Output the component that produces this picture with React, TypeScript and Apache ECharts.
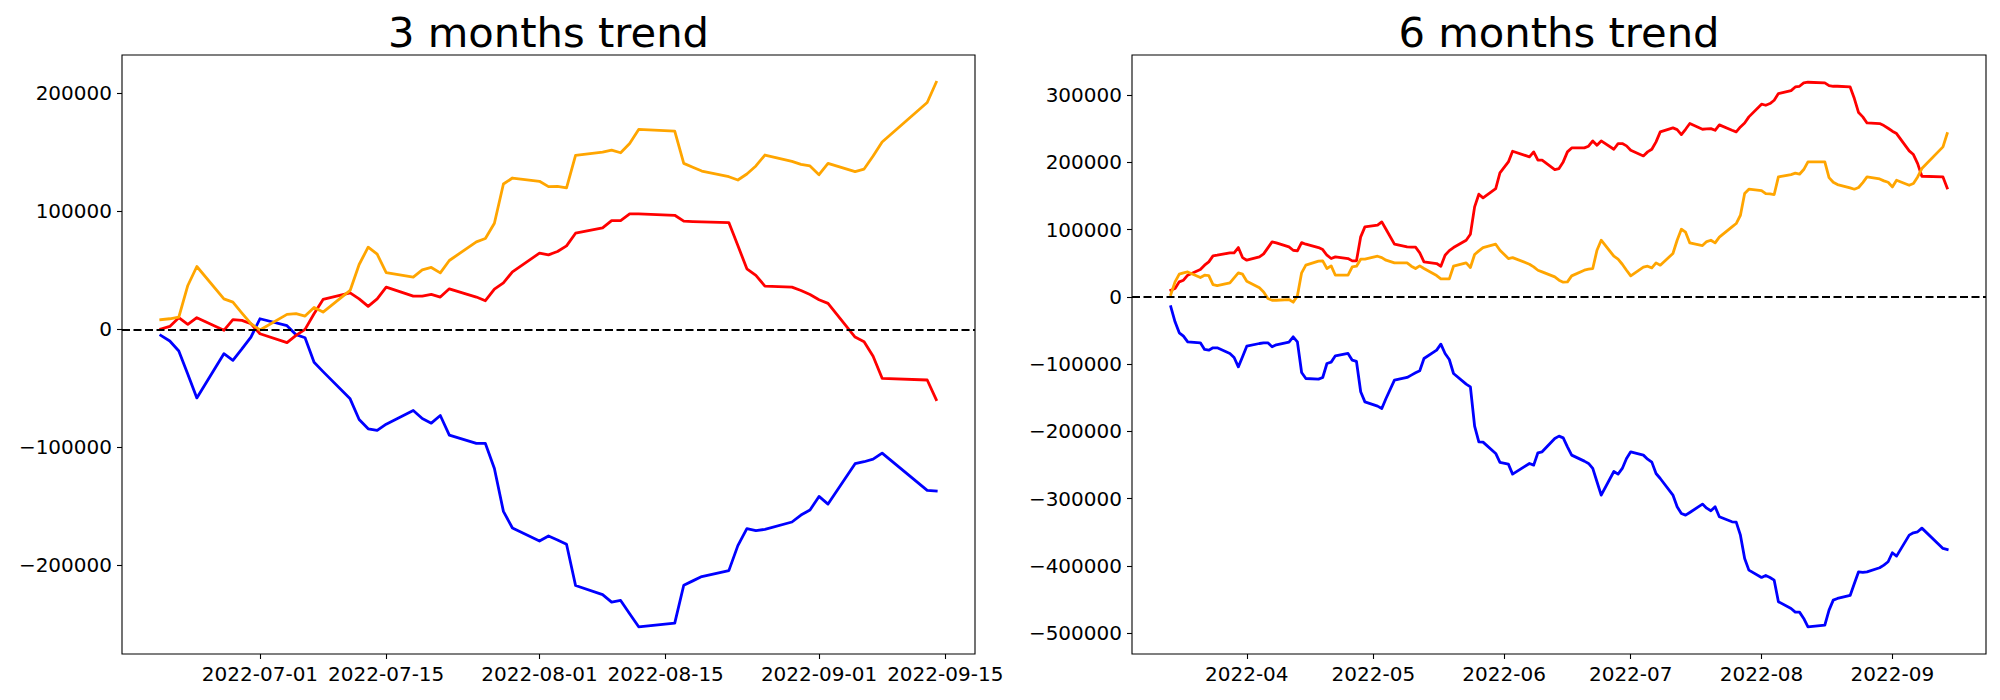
import React, { useEffect, useRef } from "react";
import * as echarts from "echarts";

// ---------------- 3 months data ----------------
const dates3m = [
  "2022-06-20", "2022-06-21", "2022-06-22", "2022-06-23", "2022-06-24", "2022-06-27", "2022-06-28", "2022-06-29", "2022-06-30",
  "2022-07-01", "2022-07-04", "2022-07-05", "2022-07-06", "2022-07-07", "2022-07-08", "2022-07-11", "2022-07-12", "2022-07-13",
  "2022-07-14", "2022-07-15", "2022-07-18", "2022-07-19", "2022-07-20", "2022-07-21", "2022-07-22", "2022-07-25", "2022-07-26",
  "2022-07-27", "2022-07-28", "2022-07-29",
  "2022-08-01", "2022-08-02", "2022-08-03", "2022-08-04", "2022-08-05", "2022-08-08", "2022-08-09", "2022-08-10", "2022-08-11",
  "2022-08-12", "2022-08-16", "2022-08-17", "2022-08-18", "2022-08-19", "2022-08-22", "2022-08-23", "2022-08-24", "2022-08-25",
  "2022-08-26", "2022-08-29", "2022-08-30", "2022-08-31",
  "2022-09-01", "2022-09-02", "2022-09-05", "2022-09-06", "2022-09-07", "2022-09-08", "2022-09-13", "2022-09-14",
];
const red3m = [
  300, 2500, 9900, 4200, 9900, -800, 8200, 7600, 4800,
  -3700, -11300, -5100, 0, 13300, 25400, 31000, 25900, 19500, 25900, 35800, 28200, 28200, 29600, 27400, 34400, 27400, 24300, 34100, 39500, 48800,
  64600, 63200, 66000, 70800, 81500, 86000, 92200, 92200, 97900, 97900, 96700, 91700, 91400, 91100, 90500, 71100, 51300, 45700, 36700, 35800, 33000, 29600,
  25100, 22000, -6500, -10400, -22800, -41500, -42900, -59500,
];
const orange3m = [
  8200, 9000, 10400, 37200, 53300, 25900, 23100, 13800, 4800,
  -500, 12700, 13300, 11300, 18600, 14700, 33000, 55000, 69700, 63700, 48200, 44300, 50500, 52500, 47900, 58400, 74200, 77000, 90000, 123200, 128300,
  125500, 121000, 121300, 119900, 147500, 150300, 152000, 149700, 157600, 169500, 168100, 140700, 137400, 134200, 129400, 126600, 131700, 138500, 147800, 142400, 139900, 138500,
  131100, 140700, 133700, 135900, 146900, 158800, 192300, 209500,
];
const blue3m = [
  -5100, -9900, -18300, -38100, -58100, -20600, -26200, -16600, -6500,
  9000, 3100, -4500, -7100, -27900, -35800, -58900, -76400, -84300, -85700, -80400, -68800, -75600, -79500, -73000, -89700, -96700, -96700, -117900, -154300, -168400,
  -179400, -175100, -178500, -182200, -217100, -224800, -231200, -229800, -241100, -252100, -249000, -216900, -213200, -209500, -204500, -183300, -168900, -170600, -169500, -163300, -157400, -153100,
  -141600, -148100, -113900, -112200, -110000, -104900, -136500, -137100,
];

// ---------------- 6 months data ----------------
const dates6m = [
  "2022-03-14", "2022-03-15", "2022-03-16", "2022-03-17", "2022-03-18", "2022-03-21", "2022-03-22", "2022-03-23", "2022-03-24", "2022-03-25",
  "2022-03-28", "2022-03-29", "2022-03-30", "2022-03-31",
  "2022-04-01", "2022-04-04", "2022-04-05", "2022-04-06", "2022-04-07", "2022-04-08", "2022-04-11", "2022-04-12", "2022-04-13", "2022-04-14",
  "2022-04-15", "2022-04-18", "2022-04-19", "2022-04-20", "2022-04-21", "2022-04-22", "2022-04-25", "2022-04-26", "2022-04-27", "2022-04-28", "2022-04-29",
  "2022-05-02", "2022-05-03", "2022-05-04", "2022-05-06", "2022-05-09", "2022-05-10", "2022-05-11", "2022-05-12", "2022-05-13", "2022-05-16",
  "2022-05-17", "2022-05-18", "2022-05-19", "2022-05-20", "2022-05-23", "2022-05-24", "2022-05-25", "2022-05-26", "2022-05-27", "2022-05-30", "2022-05-31",
  "2022-06-02", "2022-06-03", "2022-06-07", "2022-06-08", "2022-06-09", "2022-06-10", "2022-06-13", "2022-06-14", "2022-06-15", "2022-06-16",
  "2022-06-17", "2022-06-20", "2022-06-21", "2022-06-22", "2022-06-23", "2022-06-24", "2022-06-27", "2022-06-28", "2022-06-29", "2022-06-30",
  "2022-07-01", "2022-07-04", "2022-07-05", "2022-07-06", "2022-07-07", "2022-07-08", "2022-07-11", "2022-07-12", "2022-07-13", "2022-07-14",
  "2022-07-15", "2022-07-18", "2022-07-19", "2022-07-20", "2022-07-21", "2022-07-22", "2022-07-25", "2022-07-26", "2022-07-27", "2022-07-28", "2022-07-29",
  "2022-08-01", "2022-08-02", "2022-08-03", "2022-08-04", "2022-08-05", "2022-08-08", "2022-08-09", "2022-08-10", "2022-08-11", "2022-08-12",
  "2022-08-16", "2022-08-17", "2022-08-18", "2022-08-19", "2022-08-22", "2022-08-23", "2022-08-24", "2022-08-25", "2022-08-26", "2022-08-29",
  "2022-08-30", "2022-08-31",
  "2022-09-01", "2022-09-02", "2022-09-05", "2022-09-06", "2022-09-07", "2022-09-08", "2022-09-13", "2022-09-14",
];
const red6m = [
  9900, 12400, 22300, 24800, 32200, 40600, 47100, 52000, 60900, 61900, 65400, 65400, 73300, 58400,
  54500, 59400, 63900, 72800, 81700, 80200, 74300, 69300, 68400, 80700, 78300, 73300, 70300, 61900, 57000, 59400, 57000, 53500, 53500, 89200, 104000,
  106500, 111400, 100500, 78300, 74300, 73800, 73800, 65400, 52000, 49500, 45600, 61900, 68800, 73300, 84200, 93100, 133700, 152600, 147100, 161000, 184200,
  200600, 216400, 208000, 215500, 203100, 203100, 189200, 190700, 200600, 215500, 221400, 221400, 223900, 231800, 225400, 231800, 219400, 227800, 227800, 224400,
  217900, 209500, 215500, 219400, 230300, 245200, 251100, 248600, 241200, 249100, 257600, 249100, 249600, 250100, 247600, 255600, 247600, 245200, 252600, 258500, 267500,
  286300, 284800, 287300, 292200, 302100, 306600, 312000, 313000, 318000, 319000, 318000, 314000, 313000, 313000, 312000, 294700, 273900, 267500, 258500, 257600, 254600, 250600,
  246200, 242700, 216900, 211500, 198100, 179300, 178300, 162000,
];
const orange6m = [
  3500, 22300, 33700, 35700, 37100, 28700, 32200, 31700, 18300, 16800, 20800, 28200, 35700, 33700,
  23300, 13400, 7400, -2500, -5000, -5000, -4000, -7900, 1500, 35700, 47100, 53000, 53500, 42100, 46100, 32200, 32200, 44600, 45600, 56000, 56000,
  60400, 58400, 54500, 50500, 50500, 45600, 42100, 46100, 42100, 31700, 26700, 26700, 26700, 45600, 50500, 43600, 62900, 68400, 73300, 78300, 69300,
  57000, 58400, 48500, 44600, 39600, 37100, 29700, 24800, 21800, 22300, 31200, 39600, 41100, 42100, 69300, 84200, 60400, 56000, 48500, 39600,
  31200, 44100, 45600, 43100, 50500, 47100, 64400, 84200, 100500, 96100, 80200, 76300, 82200, 84200, 80200, 88700, 104000, 109000, 121300, 153500, 160000,
  158000, 153500, 153000, 152100, 178300, 181800, 183800, 182300, 189200, 200600, 200600, 177300, 170400, 166900, 162000, 160000, 162500, 169900, 178300, 175300, 172400, 170400,
  163400, 173400, 165900, 168400, 178300, 190700, 222900, 242700,
];
const blue6m = [
  -14800, -37100, -53400, -58400, -66800, -68300, -78200, -79200, -75700, -75700, -84100, -90100, -104000, -89100,
  -73300, -69300, -68300, -68300, -74200, -71300, -67300, -59400, -66800, -112400, -121300, -122300, -119800, -99000, -97000, -87600, -84100, -94100, -96000, -141100, -156000,
  -162400, -165900, -151000, -123800, -119800, -116300, -112900, -109900, -91600, -79200, -70300, -84100, -93100, -113900, -129700, -133700, -192100, -215400, -215900, -232700, -246100,
  -248600, -263400, -247600, -250100, -231700, -230300, -210500, -207000, -209500, -222800, -235200, -244100, -247600, -255000, -274800, -294600, -259500, -263400, -255000, -240200,
  -230300, -235200, -241200, -245600, -262500, -269900, -294600, -312000, -321900, -324400, -320400, -308000, -314000, -317900, -312000, -326800, -334300, -334800, -354100, -388800, -406100,
  -417000, -414000, -417000, -421000, -453100, -463100, -468500, -468500, -477900, -490300, -487800, -465500, -450700, -448200, -443700, -426000, -408600, -409600, -408600, -402600, -398700, -393700,
  -380300, -385300, -354100, -350600, -349100, -343700, -373900, -375400,
];

// ---------------- ticks & titles ----------------
const xTicks3m = ["2022-07-01", "2022-07-15", "2022-08-01", "2022-08-15", "2022-09-01", "2022-09-15"];
const xTicks6m = ["2022-04-01", "2022-05-01", "2022-06-01", "2022-07-01", "2022-08-01", "2022-09-01"];
const yTicks3m = [-200000, -100000, 0, 100000, 200000];
const yTicks6m = [-500000, -400000, -300000, -200000, -100000, 0, 100000, 200000, 300000];
const titles = ["3 months trend", "6 months trend"];
const seriesColors = { red: "#ff0000", orange: "#ffa500", blue: "#0000ff" };

const FONT = "DejaVu Sans";

function toPairs(dates: string[], vals: number[]) {
  return dates.map((d, i) => [Date.parse(d), vals[i]]);
}

function extentWithMargin(arr: number[]) {
  const mn = Math.min(...arr);
  const mx = Math.max(...arr);
  const m = (mx - mn) * 0.05;
  return [mn - m, mx + m];
}

function fmtY(v: number) {
  return v < 0 ? "\u2212" + String(Math.abs(v)) : String(v);
}

export default function App() {
  const ref = useRef<HTMLDivElement>(null);

  useEffect(() => {
    if (!ref.current) return;
    const chart = echarts.init(ref.current, undefined, { renderer: "svg" });

    const panels = [
      { dates: dates3m, red: red3m, orange: orange3m, blue: blue3m, xTicks: xTicks3m, yTicks: yTicks3m, dateLen: 10 },
      { dates: dates6m, red: red6m, orange: orange6m, blue: blue6m, xTicks: xTicks6m, yTicks: yTicks6m, dateLen: 7 },
    ];
    const grids = [
      { left: 122, top: 55, width: 853, height: 599 },
      { left: 1132, top: 55, width: 854, height: 599 },
    ];

    const xAxis: any[] = [];
    const yAxis: any[] = [];
    const series: any[] = [];
    const title: any[] = [];

    panels.forEach((p, i) => {
      const xs = p.dates.map((d) => Date.parse(d));
      const [xmin, xmax] = extentWithMargin(xs);
      const [ymin, ymax] = extentWithMargin([...p.red, ...p.orange, ...p.blue]);
      const xTickVals = p.xTicks.map((d) => Date.parse(d));

      title.push({
        text: titles[i],
        left: grids[i].left + grids[i].width / 2,
        top: 11,
        textAlign: "center",
        padding: 0,
        textStyle: { fontFamily: FONT, fontSize: 41.7, fontWeight: "normal", color: "#000" },
      });

      xAxis.push({
        type: "value",
        gridIndex: i,
        min: xmin,
        max: xmax,
        splitLine: { show: false },
        axisLine: { show: false, onZero: false },
        axisTick: { show: true, length: 5, lineStyle: { color: "#000", width: 1.1 }, customValues: xTickVals },
        axisLabel: {
          customValues: xTickVals,
          formatter: (v: number) => new Date(v).toISOString().slice(0, p.dateLen),
          fontFamily: FONT,
          fontSize: 20,
          color: "#000",
          margin: 10,
        },
      });
      yAxis.push({
        type: "value",
        gridIndex: i,
        min: ymin,
        max: ymax,
        splitLine: { show: false },
        axisLine: { show: false, onZero: false },
        axisTick: { show: true, length: 5, lineStyle: { color: "#000", width: 1.1 }, customValues: p.yTicks },
        axisLabel: {
          customValues: p.yTicks,
          formatter: (v: number) => fmtY(v),
          fontFamily: FONT,
          fontSize: 20,
          color: "#000",
          margin: 10,
        },
      });

      const lines: [string, number[]][] = [
        ["blue", p.blue],
        ["red", p.red],
        ["orange", p.orange],
      ];
      lines.forEach(([name, vals], k) => {
        const s: any = {
          type: "line",
          name: name + i,
          xAxisIndex: i,
          yAxisIndex: i,
          data: toPairs(p.dates, vals),
          showSymbol: false,
          symbol: "none",
          lineStyle: { color: (seriesColors as any)[name], width: 2.8, join: "round", cap: "square" },
          silent: true,
        };
        if (k === lines.length - 1) {
          s.markLine = {
            silent: true,
            symbol: ["none", "none"],
            label: { show: false },
            lineStyle: { color: "#000", width: 2, type: [8, 3.5] },
            data: [{ yAxis: 0 }],
          };
        }
        series.push(s);
      });
    });

    chart.setOption({
      animation: false,
      backgroundColor: "#ffffff",
      textStyle: { fontFamily: FONT },
      title,
      grid: grids.map((g) => ({ ...g, show: true, borderColor: "#000", borderWidth: 1.1, backgroundColor: "transparent" })),
      xAxis,
      yAxis,
      series,
    });

    return () => chart.dispose();
  }, []);

  return (
    <div
      ref={ref}
      style={{ position: "absolute", left: 0, top: 0, width: 2000, height: 700, background: "#fff" }}
    />
  );
}
